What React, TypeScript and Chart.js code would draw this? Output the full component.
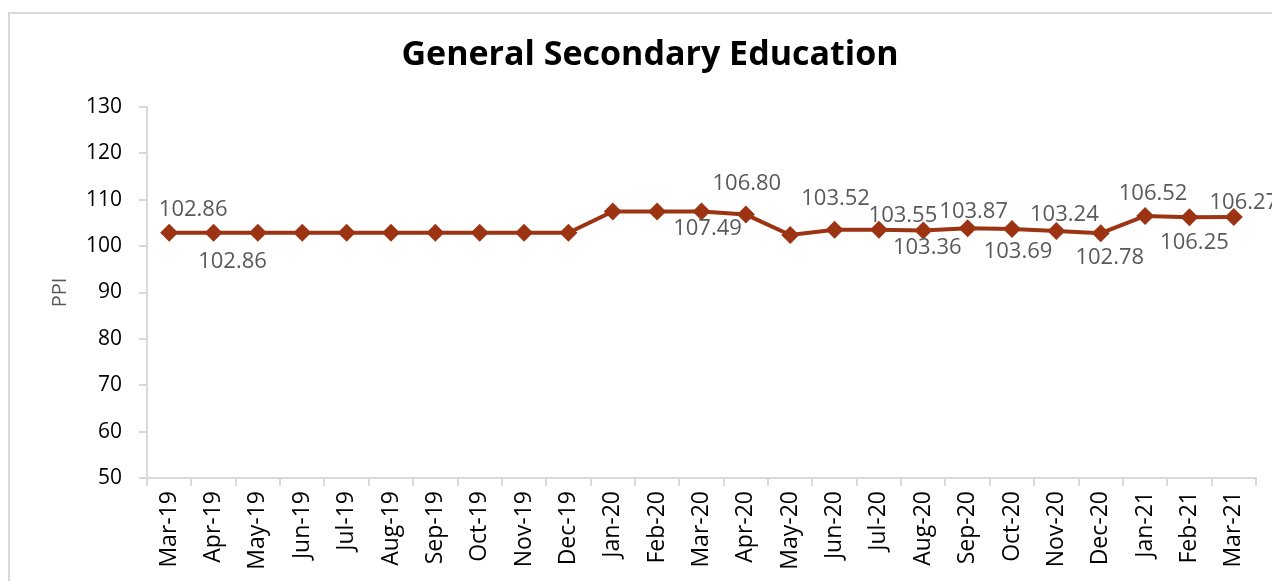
import React, { useEffect, useRef } from "react";
import { Chart, registerables } from "chart.js";

Chart.register(...registerables);

const TITLE = "General Secondary Education";

const CATEGORIES = [
  "Mar-19", "Apr-19", "May-19", "Jun-19", "Jul-19", "Aug-19", "Sep-19", "Oct-19",
  "Nov-19", "Dec-19", "Jan-20", "Feb-20", "Mar-20", "Apr-20", "May-20", "Jun-20",
  "Jul-20", "Aug-20", "Sep-20", "Oct-20", "Nov-20", "Dec-20", "Jan-21", "Feb-21", "Mar-21",
];

const PPI_VALUES = [
  102.86, 102.86, 102.86, 102.86, 102.86, 102.86, 102.86, 102.86,
  102.86, 102.86, 107.49, 107.49, 107.49, 106.8, 102.4, 103.52,
  103.55, 103.36, 103.87, 103.69, 103.24, 102.78, 106.52, 106.25, 106.27,
];

// which points carry a value label
const SHOW_LABEL = [
  true, true, false, false, false, false, false, false,
  false, false, false, false, true, true, false, true,
  true, true, true, true, true, true, true, true, true,
];

// label placement offsets (style only): [dx, dy] in px from the point
const LABEL_OFFSETS: [number, number][] = [
  [24, -23], [19, 29], [0, 0], [0, 0], [0, 0], [0, 0], [0, 0], [0, 0],
  [0, 0], [0, 0], [0, 0], [0, 0], [6, 17], [1, -31], [0, 0], [1, -31],
  [24, -14], [4, 17], [6, -16], [6, 23], [8, -16], [9, 25], [8, -22], [5, 26], [10, -14],
];

const Y_MIN = 50;
const Y_MAX = 130;
const Y_STEP = 10;

const FONT = "'Open Sans', 'Noto Sans', sans-serif";

const labelPlugin = {
  id: "valueLabels",
  afterDatasetsDraw(chart: any) {
    const ctx = chart.ctx;
    const meta = chart.getDatasetMeta(0);
    ctx.save();
    ctx.font = `22px ${FONT}`;
    ctx.fillStyle = "#595959";
    ctx.textAlign = "center";
    ctx.textBaseline = "middle";
    meta.data.forEach((pt: any, i: number) => {
      if (!SHOW_LABEL[i]) return;
      const [dx, dy] = LABEL_OFFSETS[i];
      ctx.fillText(PPI_VALUES[i].toFixed(2), pt.x + dx, pt.y + dy);
    });
    ctx.restore();
  },
};

const titlePlugin = {
  id: "chartTitle",
  afterDraw(chart: any) {
    const ctx = chart.ctx;
    ctx.save();
    ctx.font = `bold 34px ${FONT}`;
    ctx.fillStyle = "#000000";
    ctx.textAlign = "center";
    ctx.textBaseline = "middle";
    ctx.fillText(TITLE, 650, 55);
    ctx.restore();
  },
};

export default function App() {
  const ref = useRef<HTMLCanvasElement | null>(null);

  useEffect(() => {
    if (!ref.current) return;
    const chart = new Chart(ref.current, {
      type: "line",
      data: {
        labels: CATEGORIES,
        datasets: [
          {
            label: "PPI",
            data: PPI_VALUES,
            borderColor: "#9C3414",
            backgroundColor: "#9C3414",
            borderWidth: 4,
            pointStyle: "rectRot",
            pointRadius: 9,
            pointBorderWidth: 0,
            tension: 0,
          },
        ],
      },
      options: {
        responsive: false,
        animation: false,
        layout: { padding: { left: 0, right: 16, top: 107, bottom: 0 } },
        plugins: {
          legend: { display: false },
          tooltip: { enabled: false },
          title: { display: false },
        },
        scales: {
          x: {
            type: "category",
            offset: true,
            grid: {
              display: true,
              offset: true,
              drawOnChartArea: false,
              drawTicks: true,
              tickLength: 8,
              color: "#d9d9d9",
              lineWidth: 2,
            },
            border: { display: true, color: "#d9d9d9", width: 2 },
            ticks: {
              color: "#000000",
              font: { family: FONT, size: 23 },
              minRotation: 90,
              maxRotation: 90,
              autoSkip: false,
              padding: 5,
            },
            afterFit(scale: any) {
              scale.height = 103;
            },
          },
          y: {
            min: Y_MIN,
            max: Y_MAX,
            grid: {
              display: true,
              drawOnChartArea: false,
              drawTicks: true,
              tickLength: 8,
              color: "#d9d9d9",
              lineWidth: 2,
            },
            border: { display: true, color: "#d9d9d9", width: 2 },
            ticks: {
              stepSize: Y_STEP,
              color: "#000000",
              font: { family: FONT, size: 21 },
              padding: 17,
            },
            title: {
              display: true,
              text: "PPI",
              color: "#595959",
              font: { family: FONT, size: 20, lineHeight: 1.2 },
              padding: { top: 48, bottom: 0 },
            },
            afterFit(scale: any) {
              scale.width = 147;
            },
          },
        },
      },
      plugins: [labelPlugin, titlePlugin],
    });
    return () => chart.destroy();
  }, []);

  return (
    <div
      style={{
        position: "absolute",
        left: 0,
        top: 0,
        width: 1272,
        height: 581,
        overflow: "hidden",
        background: "#ffffff",
      }}
    >
      <div
        style={{
          position: "absolute",
          left: 8,
          top: 12,
          width: 1300,
          height: 600,
          border: "2px solid #d9d9d9",
          boxSizing: "border-box",
        }}
      />
      <canvas
        ref={ref}
        width={1272}
        height={581}
        style={{ position: "absolute", left: 0, top: 0, width: 1272, height: 581 }}
      />
    </div>
  );
}
